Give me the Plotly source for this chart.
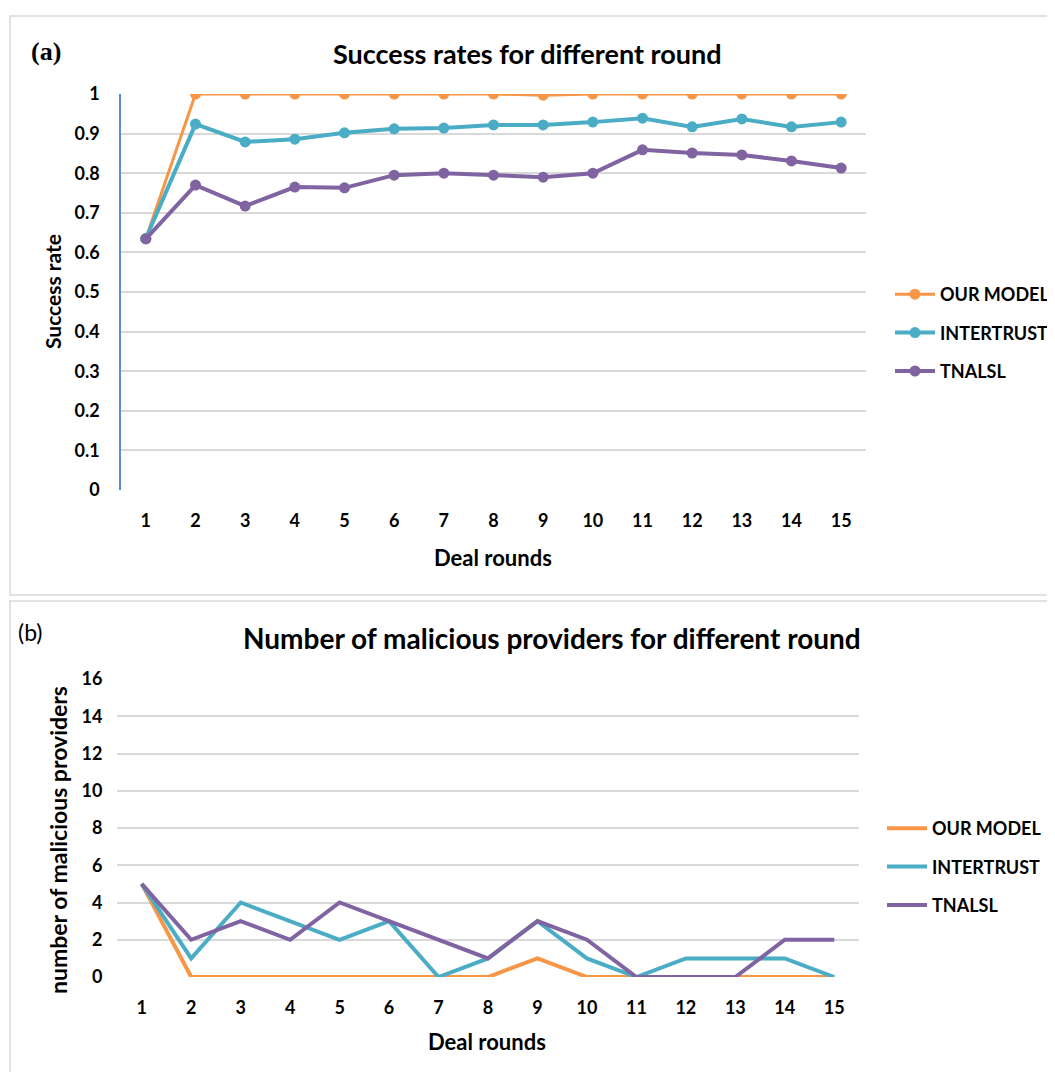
import plotly.graph_objects as go

rounds = list(range(1, 16))
series_names = ["OUR MODEL", "INTERTRUST", "TNALSL"]
colors = ["#F79646", "#4BACC6", "#8064A2"]

# Panel (a): success rates
succ_our = [0.635, 1.0, 1.0, 1.0, 1.0, 1.0, 1.0, 1.0, 0.997, 1.0, 1.0, 1.0, 1.0, 1.0, 1.0]
succ_inter = [0.635, 0.924, 0.879, 0.886, 0.902, 0.912, 0.914, 0.922, 0.922, 0.929, 0.939, 0.917, 0.937, 0.917, 0.929]
succ_tnalsl = [0.634, 0.770, 0.717, 0.765, 0.763, 0.795, 0.800, 0.795, 0.790, 0.800, 0.859, 0.851, 0.846, 0.831, 0.813]
succ_ticks = [0, 0.1, 0.2, 0.3, 0.4, 0.5, 0.6, 0.7, 0.8, 0.9, 1]
succ_ticklabels = ["0", "0.1", "0.2", "0.3", "0.4", "0.5", "0.6", "0.7", "0.8", "0.9", "1"]

# Panel (b): malicious providers
mal_our = [5, 0, 0, 0, 0, 0, 0, 0, 1, 0, 0, 0, 0, 0, 0]
mal_inter = [5, 1, 4, 3, 2, 3, 0, 1, 3, 1, 0, 1, 1, 1, 0]
mal_tnalsl = [5, 2, 3, 2, 4, 3, 2, 1, 3, 2, 0, 0, 0, 2, 2]
mal_ticks = [0, 2, 4, 6, 8, 10, 12, 14, 16]

W, H = 1055, 1072
FONT = "Lato"
OX, OY = 8, 8  # page body margin offset

def px(x):
    return (x - OX) / W

def py(y):
    return (H - (y - OY)) / H

fig = go.Figure()

succ = [succ_our, succ_inter, succ_tnalsl]
mal = [mal_our, mal_inter, mal_tnalsl]
for i, name in enumerate(series_names):
    fig.add_trace(go.Scatter(
        x=rounds, y=succ[i], name=name, mode="lines+markers",
        line=dict(color=colors[i], width=3 if i == 0 else 4),
        marker=dict(color=colors[i], size=11),
        xaxis="x", yaxis="y", legend="legend", legendgroup="a%d" % i,
    ))
for i, name in enumerate(series_names):
    fig.add_trace(go.Scatter(
        x=rounds, y=mal[i], name=name, mode="lines",
        line=dict(color=colors[i], width=4),
        xaxis="x2", yaxis="y2", legend="legend2", legendgroup="b%d" % i,
    ))

tickfont = dict(family=FONT, size=18, color="black", weight="bold")
legfont = dict(family=FONT, size=18, color="black", weight="bold")

fig.update_layout(
    width=W, height=H,
    margin=dict(l=0, r=0, t=0, b=0, autoexpand=False),
    paper_bgcolor="white", plot_bgcolor="white",
    font=dict(family=FONT, color="black"),
    xaxis=dict(domain=[px(121), px(866)], range=[0.5, 15.5], tickvals=rounds,
               showgrid=False, zeroline=False, showline=False,
               ticks="outside", ticklen=14, tickcolor="rgba(0,0,0,0)",
               tickfont=tickfont, anchor="y", fixedrange=True),
    yaxis=dict(domain=[py(490), py(94)], range=[0, 1.0], tickvals=succ_ticks,
               ticktext=succ_ticklabels,
               showgrid=True, gridcolor="#D9D9D9", gridwidth=1.5,
               zeroline=False, showline=True, linecolor="#5B8FD0", linewidth=1.5,
               ticks="outside", ticklen=16, tickcolor="rgba(0,0,0,0)",
               tickfont=tickfont, anchor="x"),
    xaxis2=dict(domain=[px(117), px(859)], range=[0.5, 15.5], tickvals=rounds,
                showgrid=False, zeroline=False, showline=False,
                ticks="outside", ticklen=14, tickcolor="rgba(0,0,0,0)",
                tickfont=tickfont, anchor="y2"),
    yaxis2=dict(domain=[py(977), py(679)], range=[0, 16], tickvals=mal_ticks,
                showgrid=True, gridcolor="#D9D9D9", gridwidth=1.5,
                zeroline=False, showline=False,
                ticks="outside", ticklen=10, tickcolor="rgba(0,0,0,0)",
                tickfont=tickfont, anchor="x2"),
    legend=dict(x=px(890), y=py(333), xanchor="left", yanchor="middle",
                font=legfont, tracegroupgap=12, itemwidth=40,
                bgcolor="rgba(0,0,0,0)"),
    legend2=dict(x=px(882), y=py(867), xanchor="left", yanchor="middle",
                 font=legfont, tracegroupgap=12, itemwidth=40,
                 bgcolor="rgba(0,0,0,0)"),
    showlegend=True,
)

# panel borders
fig.add_shape(type="rect", xref="paper", yref="paper",
              x0=px(10), x1=px(1070), y0=py(595), y1=py(16),
              line=dict(color="#D9D9D9", width=1.5), fillcolor="rgba(0,0,0,0)")
fig.add_shape(type="rect", xref="paper", yref="paper",
              x0=px(10), x1=px(1070), y0=py(1085), y1=py(601),
              line=dict(color="#D9D9D9", width=1.5), fillcolor="rgba(0,0,0,0)")

def ann(text, x, y, size, family=FONT, angle=0, bold=True, xanchor="center"):
    fig.add_annotation(text=text, x=px(x), y=py(y), xref="paper", yref="paper",
                       showarrow=False, xanchor=xanchor, yanchor="middle",
                       textangle=angle,
                       font=dict(family=family, size=size, color="black",
                                 weight="bold" if bold else "normal"))

ann("(a)", 29, 52, 26, family="Liberation Serif", xanchor="left")
ann("Success rates for different round", 527, 54, 27)
ann("Success rate", 52, 292, 21, angle=-90)
ann("Deal rounds", 493, 557, 22)

ann("(b)", 16, 632, 23, bold=False, xanchor="left")
ann("Number of malicious providers for different round", 552, 638, 28)
ann("number of malicious providers", 58, 840, 23, angle=-90)
ann("Deal rounds", 487, 1041, 22)

fig.write_html("out.html")
